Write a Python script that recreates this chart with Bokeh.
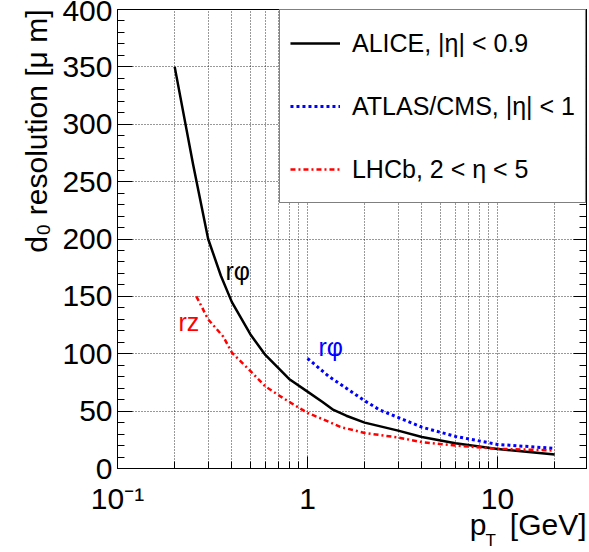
import math
from bokeh.plotting import figure
from bokeh.models import (Range1d, FixedTicker, SingleIntervalTicker, LinearAxis,
                          Legend, LegendItem, Label, Title, CustomJSTickFormatter)
from bokeh.embed import file_html
from bokeh.resources import INLINE

# ---------------- data ----------------
alice_pt = [0.2, 0.25, 0.3, 0.35, 0.4, 0.5, 0.6, 0.8, 1.0, 1.2, 1.37, 1.6, 2.0, 3.0, 4.0, 6.0, 10.0, 20.0]
alice_d0 = [350, 265, 200, 168, 145, 117, 99, 78, 67, 58, 51, 46, 40, 33, 27.5, 22, 17, 12.2]

atlas_pt = [1.0, 1.3, 1.6, 2.0, 2.4, 3.0, 4.0, 6.0, 10.0, 20.0]
atlas_d0 = [96, 80, 70, 59, 51, 44.5, 36, 28, 21, 17.5]

lhcb_pt = [0.26, 0.3, 0.36, 0.4, 0.5, 0.6, 0.75, 0.9, 1.0, 1.2, 1.5, 2.0, 3.0, 4.0, 6.0, 10.0, 20.0]
lhcb_d0 = [150, 130, 115, 101, 85, 71.5, 61, 53, 48.5, 43, 36, 31, 27, 23, 20, 17.2, 15.7]

x_major_ticks = [0.1, 1, 10]
x_minor_ticks = [0.2, 0.3, 0.4, 0.5, 0.6, 0.7, 0.8, 0.9,
                 2, 3, 4, 5, 6, 7, 8, 9, 20]
x_tick_labels = {0.1: "10\u207b\u00b9", 1.0: "1", 10.0: "10"}
legend_labels = ["ALICE, |\u03b7| < 0.9", "ATLAS/CMS, |\u03b7| < 1", "LHCb, 2 < \u03b7 < 5"]
y_title = "d\u2080 resolution [\u03bc m]"
x_title = "p\u2002 [GeV]"
x_title_sub = "T"

# ---------------- layout ----------------
W, H = 589, 552
FL, FT, FW, FH = 117, 9, 469, 459
X0, X1 = 0.1, 29.4
Y0, Y1 = 0, 400
FONT = "Liberation Sans"

p = figure(width=W, height=H, x_axis_type="log",
           x_range=Range1d(X0, X1), y_range=Range1d(Y0, Y1),
           output_backend="svg", toolbar_location=None,
           min_border_left=FL, min_border_top=FT,
           min_border_right=W - FL - FW, min_border_bottom=H - FT - FH)
p.background_fill_color = "white"
p.border_fill_color = "white"
p.outline_line_color = "black"
p.outline_line_width = 1

# axes
xa = p.xaxis[0]
xa.ticker = FixedTicker(ticks=x_major_ticks, minor_ticks=x_minor_ticks)
xa.major_label_overrides = x_tick_labels
ya = p.yaxis[0]
ya.ticker = SingleIntervalTicker(interval=50, num_minor_ticks=5)
for ax, (maj, mnr, so) in ((xa, (12, 7, 13)), (ya, (15, 7, 5))):
    ax.major_tick_in = maj
    ax.major_tick_out = 0
    ax.minor_tick_in = mnr
    ax.minor_tick_out = 0
    ax.major_label_standoff = so
    ax.major_label_text_font = FONT
    ax.major_label_text_font_size = "30px"
    ax.major_label_text_color = "black"
    ax.axis_line_color = "black"
    ax.major_tick_line_color = "black"
    ax.minor_tick_line_color = "black"

ra = LinearAxis(ticker=SingleIntervalTicker(interval=50, num_minor_ticks=5),
                formatter=CustomJSTickFormatter(code="return ''"))
ra.major_tick_in = 13
ra.major_tick_out = 0
ra.minor_tick_in = 7
ra.minor_tick_out = 0
ra.major_label_standoff = 0
ra.axis_line_color = "black"
p.add_layout(ra, "right")

# axis titles, ROOT style (aligned to the axis ends)
p.add_layout(Title(text=y_title, align="right", standoff=14,
                   text_font=FONT, text_font_size="30px", text_font_style="normal",
                   text_color="black"), "left")
p.add_layout(Title(text=x_title, align="right", standoff=-24,
                   text_font=FONT, text_font_size="30px", text_font_style="normal",
                   text_color="black"), "below")
p.add_layout(Title(text=x_title_sub, align="left", offset=485 - FL, standoff=0,
                   text_font=FONT, text_font_size="17px", text_font_style="normal",
                   text_color="black"), "below")

# grids
p.xgrid.ticker = FixedTicker(ticks=sorted(x_major_ticks + x_minor_ticks))
p.ygrid.ticker = SingleIntervalTicker(interval=50)
for g in (p.xgrid[0], p.ygrid[0]):
    g.grid_line_color = "black"
    g.grid_line_alpha = 0.8
    g.grid_line_dash = "1 2"
    g.grid_line_width = 1

# curves
r_alice = p.line(alice_pt, alice_d0, line_color="black", line_width=2.5)
r_atlas = p.line(atlas_pt, atlas_d0, line_color="#0000ff", line_width=3, line_dash="3 3")
r_lhcb = p.line(lhcb_pt, lhcb_d0, line_color="#ff0000", line_width=2.5, line_dash="5 3 2 3")

legend = Legend(items=[LegendItem(label=legend_labels[0], renderers=[r_alice]),
                       LegendItem(label=legend_labels[1], renderers=[r_atlas]),
                       LegendItem(label=legend_labels[2], renderers=[r_lhcb])],
                location="top_right", margin=0, padding=10, spacing=17,
                glyph_width=50, glyph_height=46, label_height=46, label_standoff=12,
                label_text_font=FONT, label_text_font_size="25px",
                label_text_color="black",
                border_line_color="black", border_line_width=1,
                background_fill_color="white", background_fill_alpha=1)
p.add_layout(legend)

# curve annotations
p.add_layout(Label(x=0.370, y=171.7, text="r\u03c6", text_color="black",
                   text_font=FONT, text_font_size="25px", text_baseline="alphabetic"))
p.add_layout(Label(x=0.2095, y=127.5, text="rz", text_color="#ff0000",
                   text_font=FONT, text_font_size="25px", text_baseline="alphabetic"))
p.add_layout(Label(x=1.143, y=105.7, text="r\u03c6", text_color="#0000ff",
                   text_font=FONT, text_font_size="25px", text_baseline="alphabetic"))

open("out.html", "w").write(file_html(p, INLINE))
